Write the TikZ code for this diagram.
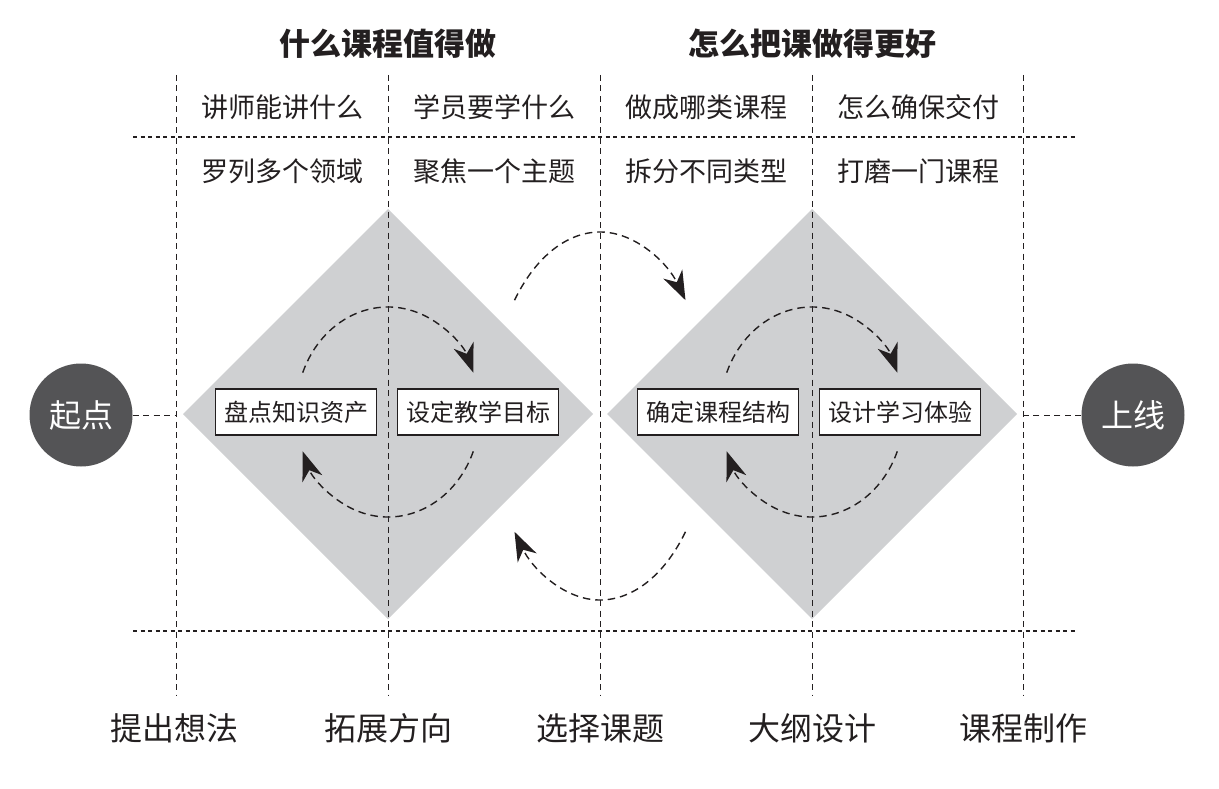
\documentclass[tikz,border=0pt]{standalone}
\usepackage{fontspec}
\newfontfamily\cjk{Noto Sans CJK SC}
\usepackage{xcolor}
\usepackage{tikz}
\usetikzlibrary{arrows.meta,positioning,calc}

\definecolor{inkgray}{HTML}{231F20}
\definecolor{diafill}{HTML}{CFD0D2}
\definecolor{dotgray}{HTML}{545456}

\begin{document}
\begin{tikzpicture}[x=1pt,y=1pt,
  guide/.style={inkgray,line width=1pt,dash pattern=on 6pt off 4.5pt},
  rule/.style={inkgray,line width=1.7pt,dash pattern=on 4pt off 3.5pt},
  turn/.style={-{Stealth[length=29pt,width=21pt,inset=9pt]},inkgray,line width=1.4pt,dash pattern=on 7.5pt off 5pt},
  task/.style={draw=inkgray,fill=white,line width=1.2pt,minimum width=161pt,
               minimum height=46pt,inner sep=0pt,text=inkgray,
               font=\cjk\fontsize{24}{24}\selectfont},
  ends/.style={circle,fill=dotgray,minimum size=103pt,inner sep=0pt,text=white,
               font=\cjk\fontsize{32}{32}\selectfont},
  colnote/.style={text=inkgray,font=\cjk\fontsize{27}{27}\selectfont},
  phase/.style={text=inkgray,font=\cjk\fontsize{32}{32}\selectfont},
  headline/.style={text=inkgray,font=\cjk\bfseries\fontsize{31}{31}\selectfont}]
  \useasboundingbox (0,0) rectangle (1219,-789);

  % two diamonds
  \foreach \cx in {388,812}
    \fill[diafill] (\cx-205,-414) -- (\cx,-209) -- (\cx+205,-414) -- (\cx,-619) -- cycle;

  % guide lines
  \foreach \gx [count=\i] in {176,388,600,812,1023}
    \draw[guide] (\gx,-75) coordinate (top\i) -- (\gx,-696) coordinate (bot\i);
  \draw[rule] (133,-137) -- (1076,-137);
  \draw[rule] (133,-631) -- (1076,-631);

  % headings
  \node[headline] (what) at (388,-44) {什么课程值得做};
  \node[headline] (how) at (812,-44) {怎么把课做得更好};

  \node[colnote] (q1) at (282,-107) {讲师能讲什么};
  \node[colnote] (q2) at (494,-107) {学员要学什么};
  \node[colnote] (q3) at (706,-107) {做成哪类课程};
  \node[colnote] (q4) at (918,-107) {怎么确保交付};
  \node[colnote] (a1) at (282,-171) {罗列多个领域};
  \node[colnote] (a2) at (494,-171) {聚焦一个主题};
  \node[colnote] (a3) at (706,-171) {拆分不同类型};
  \node[colnote] (a4) at (918,-171) {打磨一门课程};

  % steps inside the diamonds
  \node[task] (stock) at (296,-412) {盘点知识资产};
  \node[task] (goal) at (478,-412) {设定教学目标};
  \node[task] (frame) at (718,-412) {确定课程结构};
  \node[task] (learn) at (900,-412) {设计学习体验};

  % start and finish
  \node[ends] (start) at (81,-415) {起点};
  \node[ends] (online) at (1133,-415) {上线};
  \coordinate (inL) at (176,-415);
  \coordinate (inR) at (1023,-415);
  \draw[guide] (start) -- (inL);
  \draw[guide] (online) -- (inR);

  % loops
  \foreach \cx in {388,812} {
    \draw[turn] (\cx,-412) ++(158:92 and 105) arc[start angle=158,end angle=22,x radius=92,y radius=105];
    \draw[turn] (\cx,-412) ++(-22:92 and 105) arc[start angle=-22,end angle=-158,x radius=92,y radius=105];
  }
  \draw[turn] (600,-416) ++(141:110 and 184) arc[start angle=141,end angle=39,x radius=110,y radius=184];
  \draw[turn] (600,-416) ++(-39:110 and 184) arc[start angle=-39,end angle=-141,x radius=110,y radius=184];

  % milestones
  \node[phase] (idea) at (174,-728) {提出想法};
  \node[phase] (scope) at (388,-728) {拓展方向};
  \node[phase] (topic) at (600,-728) {选择课题};
  \node[phase] (outline) at (812,-728) {大纲设计};
  \node[phase] (build) at (1023,-728) {课程制作};
\end{tikzpicture}
\end{document}
